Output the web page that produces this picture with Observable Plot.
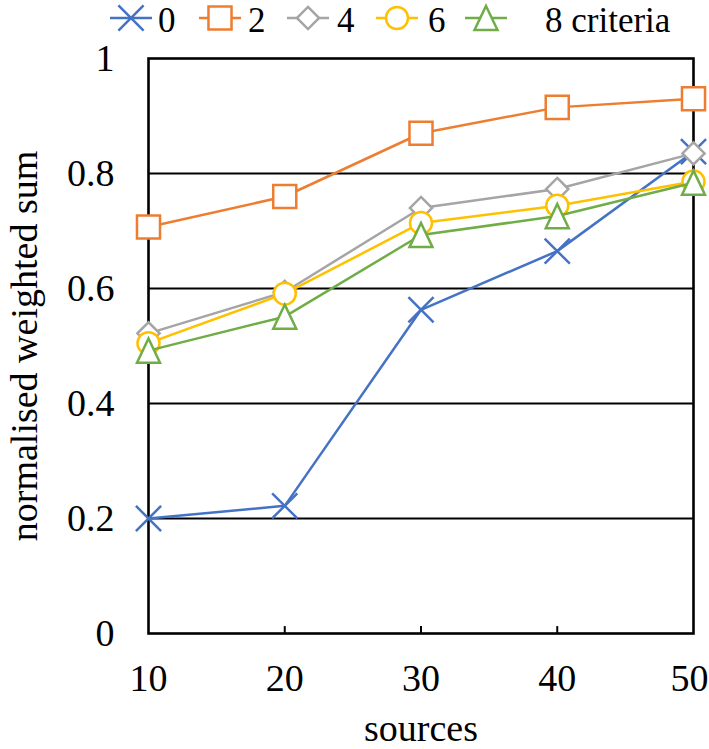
<!DOCTYPE html>
<html><head><meta charset="utf-8">
<script src="https://cdn.jsdelivr.net/npm/d3@7"></script>
<script src="https://cdn.jsdelivr.net/npm/@observablehq/plot@0.6"></script>
<style>
body{margin:0;background:#fff;font-family:"Liberation Serif","Times New Roman",serif;}
#legend{display:block}
#chart svg{display:block}
</style>
</head><body>
<svg id="legend" width="709" height="44"></svg>
<div id="chart"></div>
<script>
// ---- data ----
const sources = [10, 20, 30, 40, 50];
const criteria = ["0", "2", "4", "6", "8"];
const legendLabels = ["0", "2", "4", "6", "8 criteria"];
const s0 = [0.200, 0.222, 0.563, 0.665, 0.838];
const s2 = [0.707, 0.760, 0.870, 0.915, 0.930];
const s4 = [0.522, 0.594, 0.740, 0.773, 0.835];
const s6 = [0.505, 0.591, 0.714, 0.744, 0.786];
const s8 = [0.492, 0.551, 0.693, 0.726, 0.784];
const yTicks = [0, 0.2, 0.4, 0.6, 0.8, 1];
const yTickLabels = ["0", "0.2", "0.4", "0.6", "0.8", "1"];
const gridValues = [0.2, 0.4, 0.6, 0.8];
const innerTicks = [20, 30, 40];
const xTicksInner = [10, 20, 30, 40];
const xTickLast = [50];

const colors = ["#4472C4", "#ED7D31", "#A5A5A5", "#FFC000", "#70AD47"];
const values = [s0, s2, s4, s6, s8];

// Excel-like tall triangle
const triUp = {draw(ctx, size) {
  const r = Math.sqrt(size / Math.PI);
  ctx.moveTo(0, -1.05 * r);
  ctx.lineTo(r, 1.05 * r);
  ctx.lineTo(-r, 1.05 * r);
  ctx.closePath();
}};
const symbols = [d3.symbolTimes, d3.symbolSquare, d3.symbolDiamond2, d3.symbolCircle, triUp];
const radii = [11.5, 13, 10, 11, 11.5];
const fills = ["none", "white", "white", "white", "white"];

const table = [];
criteria.forEach((c, k) => sources.forEach((s, i) => table.push({criteria: c, sources: s, value: values[k][i]})));

// ---- legend ----
const leg = d3.select("#legend");
const legCx = [131, 220, 308, 397, 486];
const legTx = [158, 248, 337, 428, 545];
const legY = 18;
criteria.forEach((c, k) => {
  leg.append("line").attr("x1", legCx[k] - 21).attr("x2", legCx[k] + 21)
    .attr("y1", legY).attr("y2", legY).attr("stroke", colors[k]).attr("stroke-width", 2.5);
  leg.append("path").attr("transform", `translate(${legCx[k]},${legY})`)
    .attr("d", d3.symbol().type(symbols[k]).size(Math.PI * radii[k] * radii[k])())
    .attr("fill", fills[k] === "none" ? "none" : "white")
    .attr("stroke", colors[k]).attr("stroke-width", 2.5);
  leg.append("text").attr("x", legTx[k]).attr("y", 32)
    .attr("font-size", 35).attr("font-family", "Liberation Serif").attr("fill", "black")
    .text(legendLabels[k]);
});

// ---- chart ----
const seriesMarks = criteria.flatMap((c, k) => {
  const d = table.filter(t => t.criteria === c);
  return [
    Plot.line(d, {x: "sources", y: "value", stroke: colors[k], strokeWidth: 2.5}),
    Plot.dot(d, {x: "sources", y: "value", symbol: () => symbols[k], r: radii[k],
      stroke: colors[k], fill: fills[k], strokeWidth: 2.5})
  ];
});

const chart = Plot.plot({
  width: 709, height: 705,
  marginTop: 14, marginBottom: 116, marginLeft: 148, marginRight: 16,
  style: {fontFamily: "Liberation Serif, serif", fontSize: "38px", background: "white", color: "black", overflow: "visible"},
  x: {domain: [10, 50]},
  y: {domain: [0, 1]},
  symbol: {type: "identity"},
  marks: [
    Plot.ruleY(gridValues, {stroke: "black", strokeWidth: 1.8}),
    Plot.ruleX(innerTicks, {y1: 0, y2: 0.012, stroke: "black", strokeWidth: 2}),
    Plot.frame({stroke: "black", strokeWidth: 2.6}),
    Plot.axisX(xTicksInner, {tickSize: 0, tickPadding: 31, tickFormat: d => String(d), label: null, fontSize: 38}),
    Plot.axisX(xTickLast, {tickSize: 0, tickPadding: 31, tickFormat: d => String(d), label: null, fontSize: 38, textAnchor: "end", dx: 15}),
    Plot.axisY({ticks: yTicks, tickSize: 0, tickPadding: 34, tickFormat: d => yTickLabels[yTicks.indexOf(d)], label: null, fontSize: 38}),
    ...seriesMarks,
    Plot.text(["normalised weighted sum"], {frameAnchor: "left", textAnchor: "middle", dx: -124, rotate: -90, fontSize: 38, fill: "black"}),
    Plot.text(["sources"], {frameAnchor: "bottom", textAnchor: "middle", dy: 107, fontSize: 38, fill: "black"})
  ]
});
document.getElementById("chart").appendChild(chart);
</script>
</body></html>
